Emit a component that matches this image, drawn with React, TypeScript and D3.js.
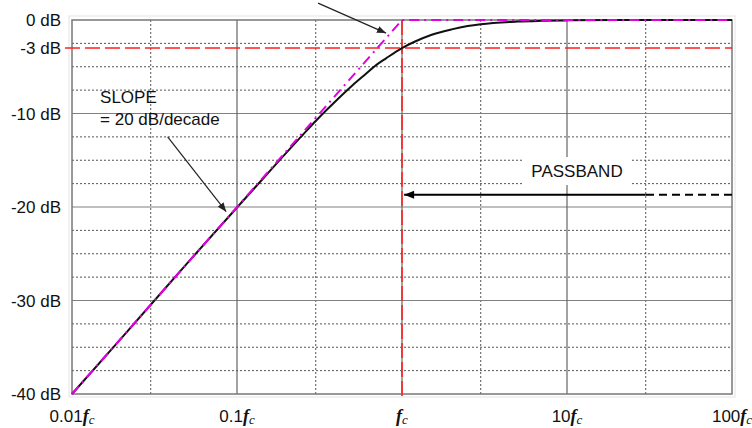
import React, { useEffect, useRef } from "react";
import * as d3 from "d3";

// frequency axis (multiples of fc)
const xDecades = [0.01, 0.1, 1, 10, 100];
const xDecadeLabels = ["0.01", "0.1", "", "10", "100"];
const xMinorGrid = [0.03, 0.3, 3, 30];

// magnitude axis (dB)
const yTickValues = [0, -3, -10, -20, -30, -40];
const yMajorGrid = [-10, -20, -30];
const yMinorGrid = [-2.5, -5, -7.5, -12.5, -15, -17.5, -22.5, -25, -27.5, -32.5, -35, -37.5];

const responseFreq = [0.01, 0.02, 0.05, 0.1, 0.15, 0.2, 0.25, 0.3, 0.35, 0.4, 0.5, 0.6, 0.7, 0.8, 1, 1.2, 1.5, 2, 2.5, 3, 5, 7, 10, 30, 100];
const responseDb = [-40, -34, -26, -20.05, -16.6, -14.15, -12.3, -10.8, -9.6, -8.6, -7, -5.8, -4.8, -4.1, -3, -2.3, -1.6, -1, -0.65, -0.45, -0.17, -0.09, -0.04, 0, 0];

// straight-line asymptote
const asymptoteFreq = [0.01, 1, 100];
const asymptoteDb = [-40, 0, 0];

const App = () => {
  const chartRef = useRef(null);

  useEffect(() => {
    const width = 752;
    const height = 428;
    const margin = { top: 20, right: 20, bottom: 34, left: 72 };

    const svg = d3.select(chartRef.current);
    svg.selectAll("*").remove();
    svg.attr("width", width).attr("height", height);

    const x = d3.scaleLog().domain([0.01, 100]).range([margin.left, width - margin.right]);
    const y = d3.scaleLinear().domain([-40, 0]).range([height - margin.bottom, margin.top]);

    const defs = svg.append("defs");
    defs
      .append("marker")
      .attr("id", "thinArrow")
      .attr("viewBox", "0 0 10 10")
      .attr("refX", 10)
      .attr("refY", 5)
      .attr("markerWidth", 9)
      .attr("markerHeight", 9)
      .attr("markerUnits", "userSpaceOnUse")
      .attr("orient", "auto")
      .append("path")
      .attr("d", "M0,1 L10,5 L0,9 z")
      .attr("fill", "#222");
    defs
      .append("marker")
      .attr("id", "bigArrow")
      .attr("viewBox", "0 0 10 10")
      .attr("refX", 10)
      .attr("refY", 5)
      .attr("markerWidth", 13)
      .attr("markerHeight", 10)
      .attr("markerUnits", "userSpaceOnUse")
      .attr("orient", "auto")
      .append("path")
      .attr("d", "M0,1 L10,5 L0,9 z")
      .attr("fill", "#000");

    const x0 = x(0.01);
    const x1 = x(100);
    const yTop = y(0);
    const yBot = y(-40);

    // outer light border
    svg
      .append("rect")
      .attr("x", x0 - 3)
      .attr("y", yTop - 4)
      .attr("width", x1 - x0 + 6)
      .attr("height", yBot - yTop + 7)
      .attr("fill", "none")
      .attr("stroke", "#e4e4e4")
      .attr("stroke-width", 1);

    // minor grid
    svg
      .append("g")
      .selectAll("line")
      .data(yMinorGrid)
      .enter()
      .append("line")
      .attr("x1", x0)
      .attr("x2", x1)
      .attr("y1", (d) => y(d))
      .attr("y2", (d) => y(d))
      .attr("stroke", "#555")
      .attr("stroke-width", 1)
      .attr("stroke-dasharray", "2,2");
    svg
      .append("g")
      .selectAll("line")
      .data(xMinorGrid)
      .enter()
      .append("line")
      .attr("x1", (d) => x(d))
      .attr("x2", (d) => x(d))
      .attr("y1", yTop)
      .attr("y2", yBot)
      .attr("stroke", "#555")
      .attr("stroke-width", 1)
      .attr("stroke-dasharray", "2,2");

    // major grid
    svg
      .append("g")
      .selectAll("line")
      .data(yMajorGrid)
      .enter()
      .append("line")
      .attr("x1", x0)
      .attr("x2", x1)
      .attr("y1", (d) => y(d))
      .attr("y2", (d) => y(d))
      .attr("stroke", "#808080")
      .attr("stroke-width", 1.2);
    svg
      .append("g")
      .selectAll("line")
      .data(xDecades.slice(1, -1))
      .enter()
      .append("line")
      .attr("x1", (d) => x(d))
      .attr("x2", (d) => x(d))
      .attr("y1", yTop)
      .attr("y2", yBot)
      .attr("stroke", "#666")
      .attr("stroke-width", 1.2);

    // frame
    svg
      .append("rect")
      .attr("x", x0)
      .attr("y", yTop)
      .attr("width", x1 - x0)
      .attr("height", yBot - yTop)
      .attr("fill", "none")
      .attr("stroke", "#777")
      .attr("stroke-width", 1.5);

    // PASSBAND label box hides grid
    const pbX = x(11.5);
    const pbY = y(-16.8);
    svg
      .append("rect")
      .attr("x", pbX - 54)
      .attr("y", pbY - 20)
      .attr("width", 108)
      .attr("height", 28)
      .attr("fill", "#fff");
    svg
      .append("text")
      .attr("x", pbX)
      .attr("y", pbY)
      .attr("text-anchor", "middle")
      .attr("font-family", "Liberation Sans, Arial, sans-serif")
      .attr("font-size", 17)
      .attr("fill", "#111")
      .text("PASSBAND");

    // -3 dB and fc reference lines
    svg
      .append("line")
      .attr("x1", x0 - 7)
      .attr("x2", x1)
      .attr("y1", y(-3))
      .attr("y2", y(-3))
      .attr("stroke", "#ff2020")
      .attr("stroke-width", 1.6)
      .attr("stroke-dasharray", "15,5");
    svg
      .append("line")
      .attr("x1", x(1))
      .attr("x2", x(1))
      .attr("y1", yTop)
      .attr("y2", yBot + 6)
      .attr("stroke", "#ff2020")
      .attr("stroke-width", 1.6)
      .attr("stroke-dasharray", "15,4");

    // response curve
    const resp = responseFreq.map((f, i) => [f, responseDb[i]]);
    svg
      .append("path")
      .datum(resp)
      .attr(
        "d",
        d3
          .line()
          .x((d) => x(d[0]))
          .y((d) => y(d[1]))
          .curve(d3.curveMonotoneX)
      )
      .attr("fill", "none")
      .attr("stroke", "#111")
      .attr("stroke-width", 2);

    // asymptote, drawn over the curve
    const asym = asymptoteFreq.map((f, i) => [f, asymptoteDb[i]]);
    svg
      .append("path")
      .datum(asym)
      .attr("d", d3.line().x((d) => x(d[0])).y((d) => y(d[1])))
      .attr("fill", "none")
      .attr("stroke", "#e000e0")
      .attr("stroke-width", 2)
      .attr("stroke-dasharray", "10,5,2,5");

    // annotations
    svg
      .append("line")
      .attr("x1", x(0.038))
      .attr("y1", y(-12.5))
      .attr("x2", x(0.086))
      .attr("y2", y(-20.5))
      .attr("stroke", "#222")
      .attr("stroke-width", 1.2)
      .attr("marker-end", "url(#thinArrow)");
    svg
      .append("line")
      .attr("x1", x(0.31))
      .attr("y1", y(1.8))
      .attr("x2", x(0.8))
      .attr("y2", y(-1.4))
      .attr("stroke", "#222")
      .attr("stroke-width", 1.2)
      .attr("marker-end", "url(#thinArrow)");

    const slope = svg
      .append("text")
      .attr("font-family", "Liberation Sans, Arial, sans-serif")
      .attr("font-size", 17)
      .attr("fill", "#111");
    slope.append("tspan").attr("x", x(0.0148)).attr("y", y(-8.9)).text("SLOPE");
    slope.append("tspan").attr("x", x(0.0148)).attr("y", y(-11.2)).text("= 20 dB/decade");

    // passband arrow
    svg
      .append("line")
      .attr("x1", x(100))
      .attr("x2", x(30))
      .attr("y1", y(-18.7))
      .attr("y2", y(-18.7))
      .attr("stroke", "#000")
      .attr("stroke-width", 2)
      .attr("stroke-dasharray", "8,5");
    svg
      .append("line")
      .attr("x1", x(30))
      .attr("x2", x(1.03))
      .attr("y1", y(-18.7))
      .attr("y2", y(-18.7))
      .attr("stroke", "#000")
      .attr("stroke-width", 2)
      .attr("marker-end", "url(#bigArrow)");

    // y labels
    svg
      .append("g")
      .selectAll("text")
      .data(yTickValues)
      .enter()
      .append("text")
      .attr("x", x0 - 11)
      .attr("y", (d) => y(d))
      .attr("dy", "0.36em")
      .attr("text-anchor", "end")
      .attr("font-family", "Liberation Sans, Arial, sans-serif")
      .attr("font-size", 17)
      .attr("fill", "#111")
      .text((d) => `${d} dB`);

    // x labels
    const xl = svg
      .append("g")
      .selectAll("text")
      .data(xDecades)
      .enter()
      .append("text")
      .attr("x", (d) => x(d))
      .attr("y", 422)
      .attr("text-anchor", "middle")
      .attr("fill", "#111");
    xl.append("tspan")
      .attr("font-family", "Liberation Sans, Arial, sans-serif")
      .attr("font-size", 17)
      .text((d, i) => xDecadeLabels[i]);
    xl.append("tspan")
      .attr("font-family", "Liberation Serif, Times New Roman, serif")
      .attr("font-style", "italic")
      .attr("font-weight", "bold")
      .attr("font-size", 18)
      .text("f");
    xl.append("tspan")
      .attr("font-family", "Liberation Serif, Times New Roman, serif")
      .attr("font-style", "italic")
      .attr("font-size", 13)
      .attr("dy", 2)
      .text("c");
  }, []);

  return (
    <svg
      ref={chartRef}
      style={{ position: "absolute", left: 0, top: 0, background: "#fff" }}
    ></svg>
  );
};

export default App;
